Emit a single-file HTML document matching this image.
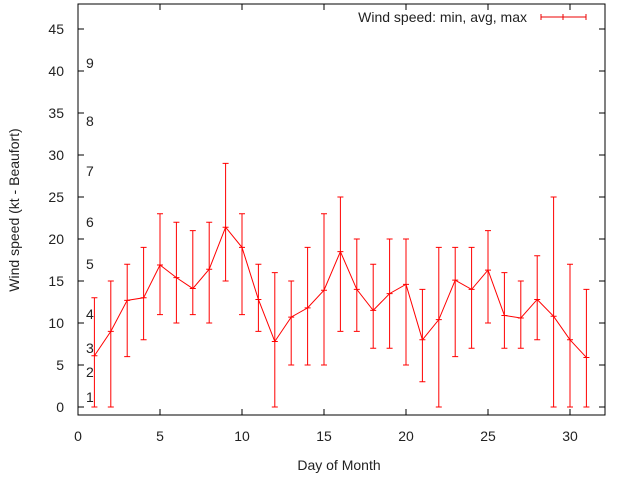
<!DOCTYPE html>
<html><head><meta charset="utf-8"><style>
body{margin:0;background:#fff}
svg text{font-family:"Liberation Sans",sans-serif;font-size:14px;fill:#222}
</style></head><body>
<svg width="640" height="480" id="c"></svg>
<script>
const days=[1,2,3,4,5,6,7,8,9,10,11,12,13,14,15,16,17,18,19,20,21,22,23,24,25,26,27,28,29,30,31];
const avgSpeed=[6.1,9,12.7,13,16.9,15.4,14.1,16.4,21.4,19,12.8,7.8,10.7,11.8,13.9,18.5,14,11.5,13.5,14.6,8,10.4,15.1,14,16.3,10.9,10.6,12.8,10.8,8,5.9];
const minSpeed=[0,0,6,8,11,10,11,10,15,11,9,0,5,5,5,9,9,7,7,5,3,0,6,7,10,7,7,8,0,0,0];
const maxSpeed=[13,15,17,19,23,22,21,22,29,23,17,16,15,19,23,25,20,17,20,20,14,19,19,19,21,16,15,18,25,17,14];
const xTicks=[0,5,10,15,20,25,30];
const yTicks=[0,5,10,15,20,25,30,35,40,45];
const beaufort=[["1",397],["2",372],["3",348],["4",314],["5",264],["6",222],["7",171],["8",121],["9",63]];
const L=78,R=605,T=4,B=415;
const X=v=>L+v*16.4;
const Y=v=>407-v*8.4;
const s=document.getElementById('c');
function el(t,a,txt){const e=document.createElementNS('http://www.w3.org/2000/svg',t);for(const k in a)e.setAttribute(k,a[k]);if(txt!==undefined)e.textContent=txt;s.appendChild(e);return e;}
let e=el('rect',{x:L,y:T,width:R-L,height:B-T,fill:'none',stroke:'#000','stroke-width':1});


yTicks.forEach(v=>{
 let t=el('line',{x1:L,x2:L+6,y1:Y(v),y2:Y(v),stroke:'#000'});
 
 
 let t2=el('line',{x1:R-6,x2:R,y1:Y(v),y2:Y(v),stroke:'#000'});
 
 
 let lb=el('text',{x:L-14,y:Y(v)+5,'text-anchor':'end'},v);
 
 
});
xTicks.forEach(v=>{
 let t=el('line',{x1:X(v),x2:X(v),y1:B,y2:B-6,stroke:'#000'});
 
 
 let t2=el('line',{x1:X(v),x2:X(v),y1:T,y2:T+6,stroke:'#000'});
 
 
 let lb=el('text',{x:X(v),y:441,'text-anchor':'middle'},v);
 
 
});
beaufort.forEach(b=>{
 let lb=el('text',{x:86,y:b[1]+5},b[0]);
 
 
});
e=el('text',{x:339,y:470,'text-anchor':'middle'},'Day of Month');


e=el('text',{x:19,y:210,'text-anchor':'middle',transform:'rotate(-90 19 210)'},'Wind speed (kt - Beaufort)');


e=el('text',{x:527,y:22,'text-anchor':'end'},'Wind speed: min, avg, max');


e=el('path',{d:'M541 17H586M541 14V20M586 14V20M563 14V20',stroke:'#e00',fill:'none'});


days.forEach((d,i)=>{
 const x=X(d);
 let p=el('path',{d:`M${x} ${Y(minSpeed[i])}V${Y(maxSpeed[i])}M${x-3} ${Y(minSpeed[i])}h6M${x-3} ${Y(maxSpeed[i])}h6M${x-3} ${Y(avgSpeed[i])}h6`,stroke:'#f00',fill:'none','stroke-width':1});
 
 
});
e=el('polyline',{points:days.map((d,i)=>X(d)+','+Y(avgSpeed[i])).join(' '),stroke:'#f00',fill:'none'});


</script>
</body></html>
